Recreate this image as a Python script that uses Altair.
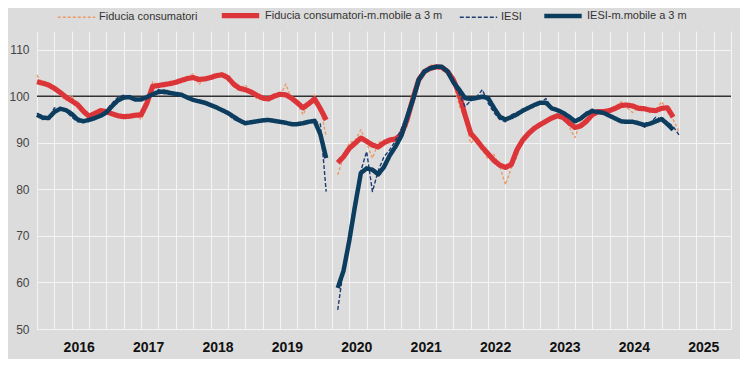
import altair as alt
import pandas as pd

# months from Jan 2016 (index 0) to Apr 2025 (index 111); April 2020 missing
fiducia = [
    104.5, 102.5, 102.3, 101.5, 100.3, 99.0, 100.3, 97.5, 96.2, 95.5, 96.5, 97.3,
    96.5, 96.5, 95.6, 95.4, 96.0, 96.2, 95.0, 97.5, 103.1, 102.2, 102.0, 102.8,
    103.2, 103.6, 104.0, 104.8, 102.5, 104.0, 104.0, 104.5, 105.0, 104.5, 102.0, 101.5,
    102.4, 100.8, 99.5, 99.4, 99.2, 100.5, 100.0, 102.6, 99.5, 98.5, 96.0, 98.5,
    100.3, 97.5, 91.3, None, 83.1, 87.0, 90.0, 90.5, 92.8, 90.0, 86.7, 90.0,
    90.5, 90.0, 91.0, 92.5, 93.5, 100.0, 104.5, 105.0, 106.7, 106.5, 106.0, 105.5,
    103.0, 98.0, 95.0, 89.9, 91.3, 88.5, 86.5, 87.5, 85.0, 81.0, 84.5, 87.0,
    91.3, 92.0, 93.5, 94.0, 94.5, 95.5, 96.0, 95.5, 93.5, 91.1, 94.5, 95.0,
    96.5, 97.0, 96.5, 97.0, 97.8, 98.8, 97.5, 96.5, 97.5, 97.5, 96.5, 97.0,
    98.8, 97.0, 95.0, 92.4,
]
fiducia_mm = [
    103.1, 102.8, 102.4, 101.7, 100.8, 99.8, 99.0, 98.2, 96.8, 95.7, 96.3, 96.9,
    96.7, 96.2, 95.8, 95.6, 95.7, 95.9, 96.0, 98.5, 102.1, 102.3, 102.5, 102.7,
    103.0, 103.4, 103.8, 104.0, 103.6, 103.7, 104.0, 104.4, 104.6, 104.0, 102.6, 101.7,
    101.4, 100.9, 100.2, 99.6, 99.4, 100.0, 100.4, 100.3, 99.6, 98.6, 97.5, 98.4,
    99.4, 97.3, 94.9, None, 85.7, 87.0, 88.8, 89.9, 91.0, 90.3, 89.5, 89.1,
    90.0, 90.6, 90.8, 91.8, 95.0, 99.5, 103.5, 105.3, 106.0, 106.3, 106.2, 105.3,
    103.5, 100.5, 96.0, 92.0, 90.6, 89.0, 87.6, 86.2, 85.2, 84.7, 85.3, 88.5,
    90.6, 92.0, 93.1, 93.9, 94.6, 95.3, 95.8, 95.4, 94.3, 93.3, 93.6, 94.6,
    96.0, 96.7, 96.7, 96.9, 97.4, 98.0, 98.1, 97.9, 97.4, 97.3, 97.0, 96.9,
    97.4, 97.5, 95.5,
]
iesi = [
    96.4, 95.0, 95.2, 97.5, 97.2, 96.8, 95.5, 94.5, 94.5, 95.2, 95.0, 96.0,
    97.0, 98.5, 99.8, 100.2, 99.5, 99.0, 99.5, 99.5, 100.5, 101.5, 100.5, 100.5,
    100.5, 100.0, 99.5, 99.0, 98.8, 98.5, 97.8, 97.5, 96.8, 96.2, 95.0, 94.5,
    94.0, 94.6, 94.7, 95.0, 94.8, 94.5, 94.3, 94.2, 93.8, 94.2, 94.5, 94.6,
    94.8, 94.0, 79.5, None, 54.1, 63.0, 70.5, 78.0, 84.0, 88.1, 79.5, 84.0,
    87.0, 88.5, 90.5, 93.0, 96.0, 100.0, 104.0, 105.5, 106.0, 106.5, 106.5, 105.0,
    102.5, 100.5, 97.8, 99.0, 99.8, 101.4, 98.5, 96.5, 95.0, 94.5, 96.0, 96.5,
    97.0, 97.5, 98.0, 98.5, 99.5, 97.5, 96.8, 96.2, 95.5, 94.5, 95.5, 96.5,
    97.2, 96.5, 96.2, 95.8, 95.0, 94.5, 94.8, 94.3, 94.5, 93.3, 94.2, 95.5,
    95.0, 94.5, 93.5, 91.7,
]
iesi_mm = [
    96.0, 95.4, 95.3, 96.6, 97.3, 97.0, 96.2, 95.0, 94.6, 94.9, 95.3, 95.8,
    96.5, 97.9, 99.1, 99.7, 99.8, 99.3, 99.3, 99.8, 100.4, 100.9, 101.0, 100.7,
    100.5, 100.3, 99.7, 99.2, 98.9, 98.6, 98.1, 97.6, 97.0, 96.4, 95.6, 94.8,
    94.2, 94.4, 94.6, 94.8, 94.9, 94.7, 94.5, 94.3, 94.0, 94.0, 94.2, 94.5,
    94.7, 91.8, 86.7, None, 58.8, 62.5, 69.0, 76.5, 83.5, 84.5, 84.2, 83.2,
    84.8, 87.3, 89.2, 91.5, 95.5, 99.2, 103.5, 105.3, 106.0, 106.3, 106.3, 105.3,
    103.0, 101.4, 99.6, 99.4, 99.6, 99.9, 99.6, 97.5, 95.6, 95.0, 95.5, 96.1,
    96.9, 97.5, 98.1, 98.6, 98.6, 97.4, 97.0, 96.4, 95.6, 94.6, 95.2, 96.2,
    96.8, 96.6, 96.4, 95.8, 95.2, 94.6, 94.5, 94.5, 94.2, 93.8, 94.1, 94.6,
    95.1, 94.0, 92.8,
]

names = [
    "Fiducia consumatori",
    "Fiducia consumatori-m.mobile a 3 m",
    "IESI",
    "IESI-m.mobile a 3 m",
]
series_values = [fiducia, fiducia_mm, iesi, iesi_mm]
colors = ["#ec9a66", "#dc3539", "#1f3c72", "#0d3d5e"]
dashes = [[3, 2], [1, 0], [4, 2], [1, 0]]
widths = [1.4, 5.2, 1.4, 4.5]
gap_index = 51

rows = []
for name, vals in zip(names, series_values):
    for i, v in enumerate(vals):
        if v is None:
            continue
        rows.append({"t": i, "value": v, "series": name, "seg": 0 if i < gap_index else 1})
df = pd.DataFrame(rows)

FONT = "Liberation Sans, Arial, sans-serif"

leg = alt.Legend(
    title=None, orient="none", legendX=20, legendY=-37, direction="horizontal",
    symbolType="stroke", symbolSize=1400, labelFont=FONT, labelFontSize=11,
    labelColor="#333333", labelOffset=3, columnPadding=13, padding=0, labelLimit=400,
)

x_enc = alt.X(
    "t:Q",
    scale=alt.Scale(domain=[0, 120], nice=False, zero=False),
    axis=alt.Axis(
        values=list(range(0, 121, 3)),
        labelExpr="datum.value % 12 == 6 ? toString(2016 + floor(datum.value / 12)) : ''",
        labelOffset=7, ticks=False, domain=False, grid=True, gridColor="#f4f4f4",
        gridWidth=1, labelFont=FONT, labelFontWeight="bold", labelFontSize=14,
        labelColor="#111111", labelPadding=11, title=None, labelOverlap=False,
        labelFlush=False, labelBound=False,
    ),
)
y_scale = alt.Scale(domain=[50, 114], nice=False, zero=False)
y_axis = alt.Axis(
    values=[50, 60, 70, 80, 90, 100, 110], ticks=False, domain=False, grid=True,
    gridColor="#f4f4f4", gridWidth=1, labelFont=FONT, labelFontSize=12,
    labelColor="#444444", labelPadding=8, title=None,
)

base = alt.Chart(df).mark_line(strokeCap="butt", strokeJoin="round").encode(
    x=x_enc,
    y=alt.Y("value:Q", scale=y_scale, axis=y_axis),
    color=alt.Color("series:N", scale=alt.Scale(domain=names, range=colors), legend=leg),
    strokeDash=alt.StrokeDash("series:N", scale=alt.Scale(type="ordinal", domain=names, range=dashes), legend=leg),
    strokeWidth=alt.StrokeWidth("series:N", scale=alt.Scale(type="ordinal", domain=names, range=widths), legend=leg),
    detail="seg:N",
)

rule = alt.Chart(pd.DataFrame({"value": [100]})).mark_rule(color="#333333", strokeWidth=1.6).encode(
    y=alt.Y("value:Q", scale=y_scale, axis=y_axis)
)

layers = [rule] + [base.transform_filter(alt.datum.series == n) for n in names]

chart = alt.layer(*layers).properties(
    width=694, height=298,
    autosize=alt.AutoSizeParams(type="none"),
    padding={"left": 29, "top": 23, "right": 9, "bottom": 30},
    background="#dcdcdc",
).configure_view(fill="#dcdcdc", stroke=None)

chart.save("out.html", embed_options={"renderer": "svg", "actions": False})
